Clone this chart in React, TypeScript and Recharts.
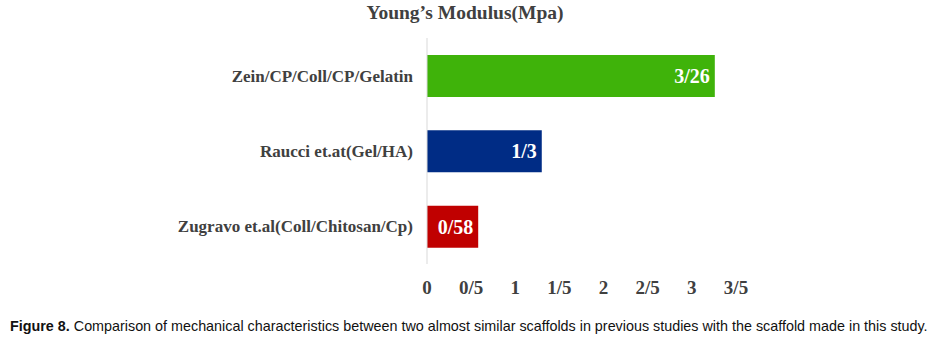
import React, { useLayoutEffect, useRef, useState } from "react";
import { BarChart, Bar, XAxis, YAxis, Cell, LabelList } from "recharts";

const categories = [
  "Zein/CP/Coll/CP/Gelatin",
  "Raucci et.at(Gel/HA)",
  "Zugravo et.al(Coll/Chitosan/Cp)",
];
const values = [3.26, 1.3, 0.58];
const barColors = ["#3fb30a", "#002c85", "#c00000"];
const xTicks = [0, 0.5, 1, 1.5, 2, 2.5, 3, 3.5];
const title = "Young’s Modulus(Mpa)";
const captionLead = "Figure 8.";
const caption = "Comparison of mechanical characteristics between two almost similar scaffolds in previous studies with the scaffold made in this study.";

const data = categories.map((name, i) => ({ name, value: values[i] }));
const fmt = (v: number) => String(v).replace(".", "/");
const serif = "'Liberation Serif', 'Times New Roman', serif";

function Caption() {
  const ref = useRef<HTMLDivElement>(null);
  const [scale, setScale] = useState(0.85);
  useLayoutEffect(() => {
    if (ref.current) {
      const w = ref.current.scrollWidth;
      if (w > 0) setScale(918 / w);
    }
  }, []);
  return (
    <div
      ref={ref}
      style={{
        position: "absolute",
        left: 10,
        top: 317,
        whiteSpace: "nowrap",
        display: "inline-block",
        fontFamily: "'Liberation Sans', Arial, sans-serif",
        fontSize: 15,
        lineHeight: "18px",
        color: "#111",
        transform: `scaleX(${scale})`,
        transformOrigin: "0 0",
      }}
    >
      <b>{captionLead}</b> {caption}
    </div>
  );
}

export default function App() {
  return (
    <div style={{ position: "absolute", left: 0, top: 0, width: 943, height: 344, background: "#fff", overflow: "hidden" }}>
      <div
        style={{
          position: "absolute",
          left: 0,
          top: 2,
          width: 930,
          textAlign: "center",
          fontFamily: serif,
          fontWeight: "bold",
          fontSize: 19.5,
          color: "#404040",
        }}
      >
        {title}
      </div>
      <div style={{ position: "absolute", left: 0, top: 0 }}>
        <BarChart
          width={943}
          height={305}
          data={data}
          layout="vertical"
          margin={{ top: 38, right: 207, bottom: 5, left: 0 }}
        >
          <XAxis
            type="number"
            domain={[0, 3.5]}
            ticks={xTicks}
            tickFormatter={fmt}
            axisLine={false}
            tickLine={false}
            tickMargin={11}
            height={36}
            interval={0}
            tick={{ fill: "#404040", fontFamily: serif, fontWeight: "bold", fontSize: 19 }}
          />
          <YAxis
            type="category"
            dataKey="name"
            width={427}
            axisLine={{ stroke: "#d9d9d9" }}
            tickLine={false}
            tickMargin={8}
            tick={{ fill: "#404040", fontFamily: serif, fontWeight: "bold", fontSize: 17 }}
          />
          <Bar dataKey="value" barSize={42} isAnimationActive={false}>
            {data.map((d, i) => (
              <Cell key={d.name} fill={barColors[i]} />
            ))}
            <LabelList
              dataKey="value"
              position="insideRight"
              offset={5}
              formatter={(v: any) => fmt(v)}
              style={{ fill: "#ffffff", fontFamily: serif, fontWeight: "bold", fontSize: 20 }}
            />
          </Bar>
        </BarChart>
      </div>
      <Caption />
    </div>
  );
}
